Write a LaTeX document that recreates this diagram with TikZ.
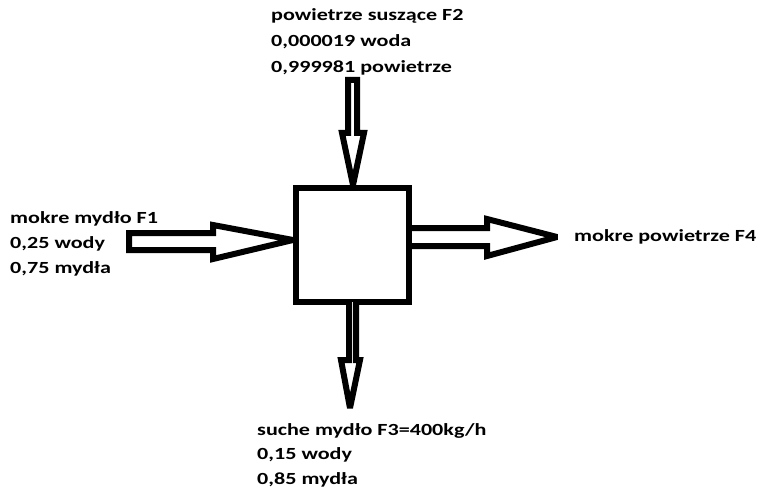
\documentclass[tikz,border=0pt]{standalone}
\usepackage{fontspec}
\setmainfont{Carlito}[FakeStretch=1.3]
\begin{document}
\begin{tikzpicture}[x=1pt,y=-1pt,
  lbl/.style={anchor=base west,inner sep=0pt,font=\fontsize{17}{20}\selectfont\bfseries},
  blk/.style={draw=black,line width=6pt,fill=white,line join=miter,miter limit=3}]
\useasboundingbox[fill=white] (0,0) rectangle (760,492);
% process box
\node[draw=black,line width=6pt,minimum width=113pt,minimum height=114pt,inner sep=0pt] (box) at (352.5,245) {};
% right outgoing arrow F4
\draw[blk] (box.east |- 0,228) -- (487,228) -- (487,219) -- (557,237) -- (487,256) -- (487,246) -- (box.east |- 0,246);
% left incoming arrow F1
\draw[blk] (129,233) -- (213,233) -- (213,225) -- (box.west |- 0,240) -- (213,259) -- (213,250) -- (129,250) -- cycle;
% top incoming arrow F2
\draw[blk] (348,80) -- (357,80) -- (357,133) -- (364,133) -- (box.north -| 353,0) -- (342,133) -- (348,133) -- cycle;
% bottom outgoing arrow F3
\draw[blk] (349,302) -- (349,360) -- (341,360) -- (350,408) -- (360,360) -- (356,360) -- (356,302);
% labels
\node[lbl] (t1) at (271,21) {powietrze suszące F2};
\node[lbl] (t2) at (271,47) {0,000019 woda};
\node[lbl] (t3) at (271,73) {0,999981 powietrze};
\node[lbl] (l1) at (10,223) {mokre mydło F1};
\node[lbl] (l2) at (10,248) {0,25 wody};
\node[lbl] (l3) at (10,273) {0,75 mydła};
\node[lbl] (r1) at (574,241) {mokre powietrze F4};
\node[lbl] (b1) at (257,435) {suche mydło F3=400kg/h};
\node[lbl] (b2) at (257,459) {0,15 wody};
\node[lbl] (b3) at (257,484) {0,85 mydła};
\end{tikzpicture}
\end{document}
